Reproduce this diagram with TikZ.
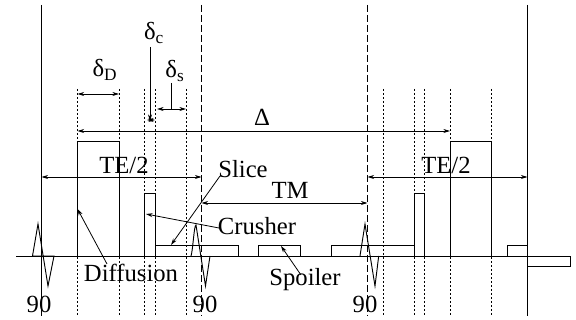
\documentclass[tikz,border=0pt]{standalone}
\usepackage{fontspec}
\setmainfont{Liberation Serif}
\usetikzlibrary{arrows.meta}

\begin{document}
\begin{tikzpicture}[
    x=0.75pt, y=-0.75pt,
    lab/.style={font=\fontsize{18.5}{20}\selectfont, inner sep=0pt},
    arrow/.style={-{Stealth[length=5pt, width=3pt]}, line width=0.6pt},
    span/.style={{Stealth[length=5pt, width=3pt]}-{Stealth[length=5pt, width=3pt]}, line width=0.6pt},
    pulse/.style={line width=0.7pt},
    gridline/.style={line width=0.7pt, dash pattern=on 1.5pt off 1.5pt},
    rfline/.style={line width=0.7pt, dash pattern=on 5pt off 2.5pt},
    wall/.style={line width=0.8pt}
  ]
    \useasboundingbox (0,0) rectangle (576,320);
    % vertical lines
    \draw[wall] (41.5,5) -- (41.5,316);
    \draw[wall] (527.5,5) -- (527.5,316);
    \draw[rfline] (201.5,5) -- (201.5,316);
    \draw[rfline] (367.5,5) -- (367.5,316);
    \foreach \xpos in {77.5,119,144.5,155,186,383,414,424,450,491.5} {
      \draw[gridline] (\xpos,89) -- (\xpos,316);
    }
    % base line and gradients
    \draw[pulse] (16,256) -- (570,256);
    \draw[pulse] (77.5,256) |- (119,141) -- (119,256);
    \draw[pulse] (450,256) |- (491.5,141) -- (491.5,256);
    \draw[pulse] (144.5,256) |- (155,193) -- (155,256);
    \draw[pulse] (414,256) |- (424,193) -- (424,256);
    \draw[pulse] (155,256) |- (238,245) -- (238,256);
    \draw[pulse] (258.7,256) |- (300.3,245) -- (300.3,256);
    \draw[pulse] (331,256) |- (414,245);
    \draw[pulse] (507,256) |- (527.5,245);
    \draw[pulse] (527.5,256) |- (570,266) -- (570,256);
    % rf pulses
    \draw[pulse] (32.5,256) -- (38,224) -- (48,286) -- (54,256) -- cycle;
    \draw[pulse] (191,256) .. controls (193,250) and (194,225) .. (196,225) -- (205.5,286) -- (210,256);
    \draw[pulse] (360,256) -- (365,224) -- (375,286) -- (378.7,256);
    % labels
    \node[lab] (deltaC) at (154,33) {δ\textsubscript{c}};
    \node[lab] (deltaD) at (105,70) {δ\textsubscript{D}};
    \node[lab] (deltaS) at (175,71) {δ\textsubscript{s}};
    \node[lab] (bigDelta) at (262,117) {Δ};
    \node[lab] (teLeft) at (124,165) {TE/2};
    \node[lab] (teRight) at (446,165) {TE/2};
    \node[lab] (tm) at (290,190) {TM};
    \node[lab] (slice) at (243,169) {Slice};
    \node[lab] (crusher) at (257,226) {Crusher};
    \node[lab] (diffusion) at (131,273) {Diffusion};
    \node[lab] (spoiler) at (305,280) {Spoiler};
    \node[lab] (ninetyA) at (39,304) {90};
    \node[lab] (ninetyB) at (205,304) {90};
    \node[lab] (ninetyC) at (365,304) {90};
    % end points
    \coordinate (dA) at (77.5,94);
    \coordinate (dB) at (119,94);
    \coordinate (sA) at (157,109);
    \coordinate (sB) at (186,109);
    \coordinate (sM) at (171,109);
    \coordinate (sT) at (171,83);
    \coordinate (cT) at (150,47);
    \coordinate (cB) at (150,121);
    \coordinate (bigA) at (77.5,131);
    \coordinate (bigB) at (450,131);
    \coordinate (teA) at (41.5,177);
    \coordinate (teB) at (201.5,177);
    \coordinate (teC) at (367.5,177);
    \coordinate (teD) at (527.5,177);
    \coordinate (tmA) at (201.5,203);
    \coordinate (tmB) at (367.5,203);
    \coordinate (sliceTip) at (171,245);
    \coordinate (crushTip) at (146,214);
    \coordinate (diffTip) at (77.5,209);
    \coordinate (spoilTip) at (281,246);
    \coordinate (diffEnd) at (107,264);
    \coordinate (spoilEnd) at (301,275);
    \coordinate (sliceEnd) at (220,176);
    \coordinate (crushEnd) at (219,228);
    \coordinate (cA) at (147,120);
    \coordinate (cC) at (155,120);
    % arrows
    \draw[span] (dA) -- (dB);
    \draw[span] (sA) -- (sB);
    \draw[line width=0.6pt] (sT) -- (sM);
    \draw[arrow] (cT) -- (cB);
    \draw[span] (cA) -- (cC);
    \draw[span] (bigA) -- (bigB);
    \draw[span] (teA) -- (teB);
    \draw[span] (teC) -- (teD);
    \draw[span] (tmA) -- (tmB);
    \draw[arrow] (sliceEnd) -- (sliceTip);
    \draw[arrow] (crushEnd) -- (crushTip);
    \draw[arrow] (diffEnd) -- (diffTip);
    \draw[arrow] (spoilEnd) -- (spoilTip);
  \end{tikzpicture}
\end{document}
